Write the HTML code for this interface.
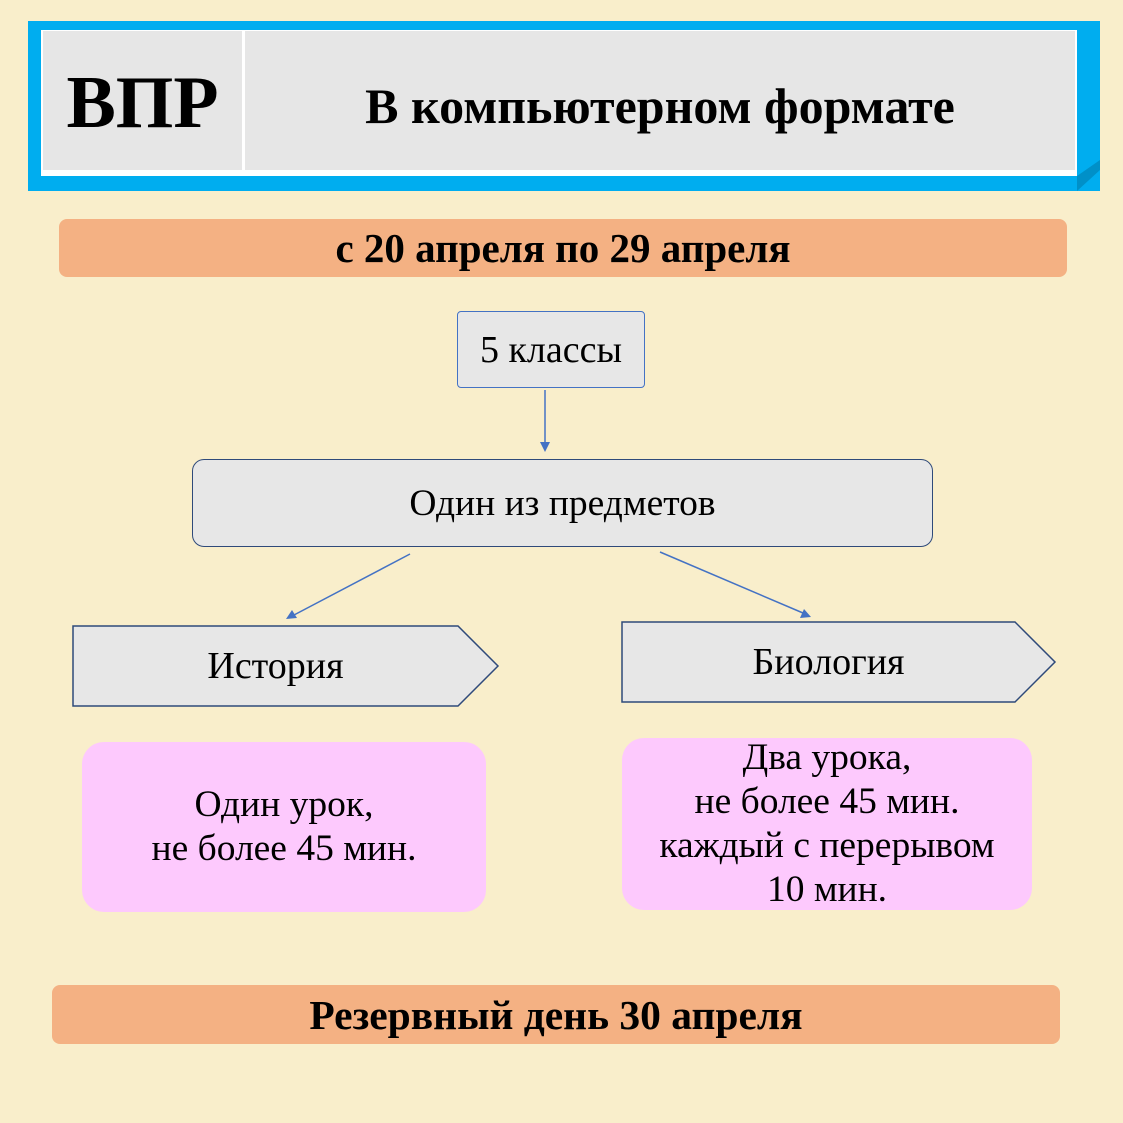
<!DOCTYPE html>
<html><head><meta charset="utf-8"><style>
body{margin:0;width:1123px;height:1123px;background:#f9eecb;position:relative;font-family:"Liberation Serif",serif;overflow:hidden}
div{position:absolute;box-sizing:border-box}
.c{display:flex;align-items:center;justify-content:center;text-align:center;white-space:nowrap}
</style></head><body>
<div style="left:28px;top:21px;width:1072px;height:170px;background:#00adef"></div>
<div style="left:41px;top:30px;width:1036px;height:146px;background:#fff"></div>
<div style="left:43px;top:31px;width:199px;height:139px;background:#e6e6e6"></div>
<div style="left:245px;top:31px;width:830px;height:139px;background:#e6e6e6"></div>
<svg style="position:absolute;left:0;top:0" width="1123" height="1123">
<polygon points="1077,176 1100,160 1100,170 1077,191" fill="#0090c8"/>
<line x1="545" y1="390" x2="545" y2="445" stroke="#4472c4" stroke-width="1.5"/>
<polygon points="540,442 550,442 545,452" fill="#4472c4"/>
<line x1="410" y1="554" x2="294" y2="615" stroke="#4472c4" stroke-width="1.5"/>
<polygon points="286,619 292,610 297,618" fill="#4472c4"/>
<line x1="660" y1="552" x2="803" y2="613" stroke="#4472c4" stroke-width="1.5"/>
<polygon points="811,617 800,618 804,609" fill="#4472c4"/>
<polygon points="73,626 458,626 498,666 458,706 73,706" fill="#e7e7e7" stroke="#2f4a7a" stroke-width="1.5"/>
<polygon points="622,622 1015,622 1055,662 1015,702 622,702" fill="#e7e7e7" stroke="#2f4a7a" stroke-width="1.5"/>
</svg>
<div class="c" style="left:43px;top:31px;width:199px;height:145px;font-size:74px;font-weight:bold">ВПР</div>
<div class="c" style="left:245px;top:31px;width:830px;height:149px;font-size:50px;font-weight:bold">В компьютерном формате</div>
<div class="c" style="left:59px;top:219px;width:1008px;height:58px;background:#f4b183;border-radius:8px;font-size:41px;font-weight:bold">с 20 апреля по 29 апреля</div>
<div class="c" style="left:457px;top:311px;width:188px;height:77px;background:#e7e7e7;border:1.5px solid #4472c4;border-radius:4px;font-size:38px">5 классы</div>
<div class="c" style="left:192px;top:459px;width:741px;height:88px;background:#e7e7e7;border:1.5px solid #2f4a7a;border-radius:12px;font-size:37.5px">Один из предметов</div>
<div class="c" style="left:73px;top:626px;width:405px;height:80px;font-size:38px">История</div>
<div class="c" style="left:622px;top:622px;width:413px;height:80px;font-size:38px">Биология</div>
<div class="c" style="left:82px;top:742px;width:404px;height:170px;background:#fdc9fd;border-radius:22px;font-size:37.5px;line-height:44px">Один урок,<br>не более 45 мин.</div>
<div class="c" style="left:622px;top:738px;width:410px;height:172px;background:#fdc9fd;border-radius:22px;font-size:37.5px;line-height:44px">Два урока,<br>не более 45 мин.<br>каждый с перерывом<br>10 мин.</div>
<div class="c" style="left:52px;top:985px;width:1008px;height:59px;background:#f4b183;border-radius:8px;font-size:41.5px;font-weight:bold">Резервный день 30 апреля</div>
</body></html>
